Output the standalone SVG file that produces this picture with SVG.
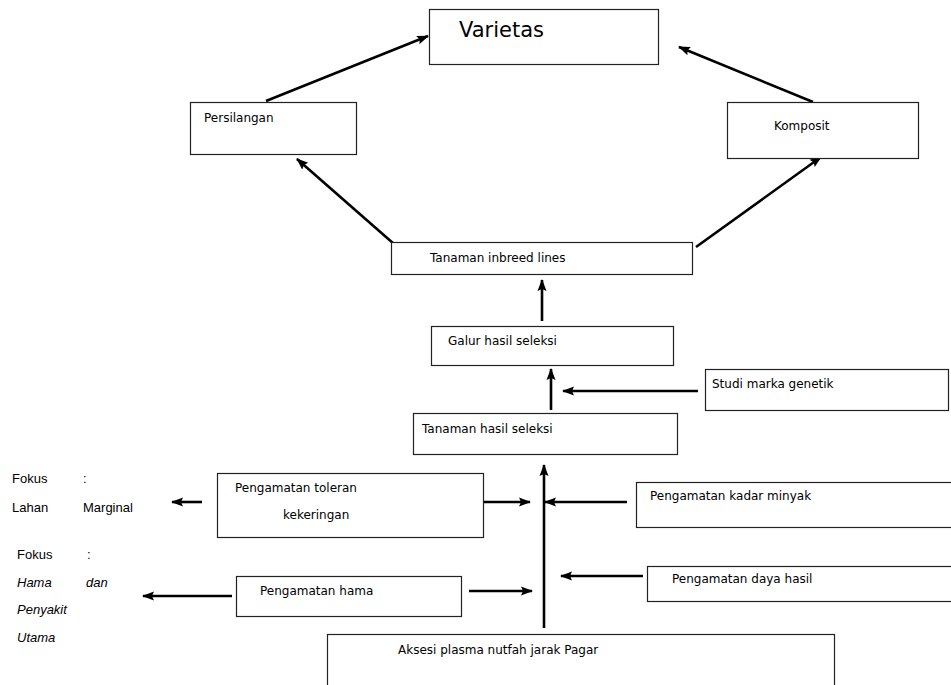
<svg xmlns="http://www.w3.org/2000/svg" width="951" height="685" viewBox="0 0 951 685">
<style>
.box{fill:#fff;stroke:#222;stroke-width:1.2}
.t{font-family:"DejaVu Sans",Verdana,sans-serif;font-size:12px;fill:#000}
.big{font-family:"DejaVu Sans",Verdana,sans-serif;font-size:21px;fill:#000}
.a{font-family:"Liberation Sans",Arial,sans-serif;font-size:13px;fill:#000}
.i{font-style:italic}
.c{stroke:#000;stroke-width:2.6;fill:none;marker-end:url(#ah)}
</style>
<defs>
<marker id="ah" markerUnits="userSpaceOnUse" markerWidth="12" markerHeight="12" viewBox="0 0 12 12" refX="11" refY="6" orient="auto">
<path d="M0,1.5 L12,6 L0,10.5 L2,6 z" fill="#000"/>
</marker>
</defs>
<rect width="951" height="685" fill="#fff"/>
<g id="connectors">
<line class="c" x1="266" y1="101" x2="428" y2="36"/>
<line class="c" x1="813" y1="102" x2="679" y2="47"/>
<line class="c" x1="402" y1="251" x2="297" y2="159"/>
<line class="c" x1="696" y1="247" x2="821" y2="157"/>
<line class="c" x1="542" y1="321" x2="542" y2="280"/>
<line class="c" x1="551" y1="410" x2="551" y2="369"/>
<line class="c" x1="698" y1="391" x2="563" y2="391"/>
<line class="c" x1="544" y1="628" x2="544" y2="465"/>
<line class="c" x1="468" y1="502" x2="530" y2="502"/>
<line class="c" x1="627" y1="502" x2="545" y2="502"/>
<line class="c" x1="469" y1="591" x2="532" y2="591"/>
<line class="c" x1="643" y1="576" x2="561" y2="576"/>
<line class="c" x1="202" y1="502" x2="172" y2="502"/>
<line class="c" x1="232" y1="596" x2="143" y2="596"/>
</g>
<g id="varietas"><rect class="box" x="429.5" y="9.5" width="229" height="55"/><text class="big" x="459" y="37">Varietas</text></g>
<g id="persilangan"><rect class="box" x="190.5" y="102.5" width="166" height="52"/><text class="t" x="204" y="122">Persilangan</text></g>
<g id="komposit"><rect class="box" x="727.5" y="102.5" width="191" height="56"/><text class="t" x="774" y="130">Komposit</text></g>
<g id="inbreed"><rect class="box" x="391.5" y="242.5" width="301" height="32"/><text class="t" x="430" y="262">Tanaman inbreed lines</text></g>
<g id="galur"><rect class="box" x="431.5" y="326.5" width="242" height="39"/><text class="t" x="448" y="345">Galur hasil seleksi</text></g>
<g id="studi"><rect class="box" x="705.5" y="369.5" width="243" height="41"/><text class="t" x="712" y="388">Studi marka genetik</text></g>
<g id="tanaman-hasil"><rect class="box" x="413.5" y="413.5" width="264" height="41"/><text class="t" x="422" y="433">Tanaman hasil seleksi</text></g>
<g id="toleran"><rect class="box" x="217.5" y="473.5" width="266" height="64"/><text class="t" x="235" y="492">Pengamatan toleran</text><text class="t" x="283" y="519">kekeringan</text></g>
<g id="kadar"><rect class="box" x="636.5" y="482.5" width="330" height="45"/><text class="t" x="650" y="500">Pengamatan kadar minyak</text></g>
<g id="hama"><rect class="box" x="236.5" y="576.5" width="225" height="40"/><text class="t" x="260" y="595">Pengamatan hama</text></g>
<g id="daya"><rect class="box" x="647.5" y="566.5" width="320" height="35"/><text class="t" x="672" y="583">Pengamatan daya hasil</text></g>
<g id="aksesi"><rect class="box" x="327.5" y="634.5" width="507" height="70"/><text class="t" x="398" y="654">Aksesi plasma nutfah jarak Pagar</text></g>
<g id="fokus-lahan">
<text class="a" x="12" y="483">Fokus</text><text class="a" x="83" y="483">:</text>
<text class="a" x="12" y="512">Lahan</text><text class="a" x="83" y="512">Marginal</text>
</g>
<g id="fokus-hama">
<text class="a" x="17" y="559">Fokus</text><text class="a" x="87" y="559">:</text>
<text class="a i" x="17" y="587">Hama</text><text class="a i" x="86" y="587">dan</text>
<text class="a i" x="17" y="614">Penyakit</text>
<text class="a i" x="17" y="642">Utama</text>
</g>
</svg>
